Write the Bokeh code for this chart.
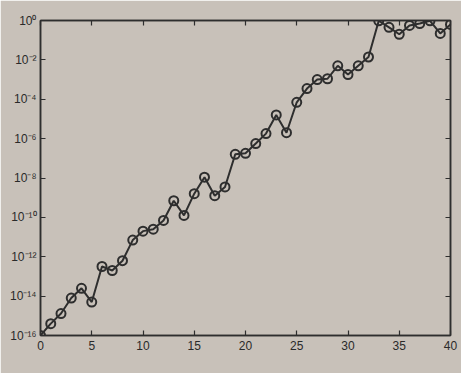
from bokeh.plotting import figure
from bokeh.models import Range1d, FixedTicker, LogAxis, LinearAxis
from bokeh.embed import file_html
from bokeh.resources import INLINE

x_vals = list(range(0, 41))
y_vals = [1e-16, 4e-16, 1.3e-15, 8e-15, 2.5e-14, 5e-15, 3.2e-13, 2e-13, 6.3e-13,
          7e-12, 2e-11, 2.5e-11, 7e-11, 7e-10, 1.26e-10, 1.6e-9, 1.1e-8, 1.26e-9,
          3.5e-9, 1.6e-7, 1.8e-7, 5.6e-7, 1.8e-6, 1.6e-5, 2e-6, 7e-5, 3.5e-4,
          1e-3, 1.1e-3, 5e-3, 1.8e-3, 5e-3, 1.4e-2, 0.97, 0.45, 0.2, 0.56, 0.7,
          0.97, 0.22, 0.63]

x_ticks = [0, 5, 10, 15, 20, 25, 30, 35, 40]
y_ticks = [1e-16, 1e-14, 1e-12, 1e-10, 1e-8, 1e-6, 1e-4, 1e-2, 1e0]
y_tick_labels = ["10⁻¹⁶", "10⁻¹⁴", "10⁻¹²", "10⁻¹⁰", "10⁻⁸", "10⁻⁶", "10⁻⁴", "10⁻²", "10⁰"]

bg = "#c8c1b9"
ink = "#2e2e2e"

p = figure(width=461, height=373, y_axis_type="log",
           x_range=Range1d(0, 40), y_range=Range1d(1e-16, 1e0),
           output_backend="svg", toolbar_location=None,
           min_border_left=40, min_border_right=11, min_border_top=20, min_border_bottom=38)
p.background_fill_color = bg
p.border_fill_color = bg
p.outline_line_color = ink
p.outline_line_width = 1.5
p.grid.visible = False

p.line(x_vals, y_vals, line_color=ink, line_width=2)
p.scatter(x_vals, y_vals, size=9, marker="circle", fill_color=None,
          line_color=ink, line_width=2)

def style(ax, labels=True):
    ax.axis_line_color = ink
    ax.axis_line_width = 1.5
    ax.major_tick_in = 5
    ax.major_tick_out = 0
    ax.minor_tick_line_color = None
    ax.major_tick_line_color = ink
    ax.major_tick_line_width = 1.2
    ax.major_label_text_font = "Liberation Sans"
    ax.major_label_text_font_size = "12px"
    ax.major_label_text_color = "#2a2a2a"
    ax.major_label_standoff = 4
    if not labels:
        ax.major_label_text_color = None

xa = p.xaxis[0]
xa.ticker = FixedTicker(ticks=x_ticks)
style(xa)
xa.major_label_standoff = 5
ya = p.yaxis[0]
ya.ticker = FixedTicker(ticks=y_ticks)
ya.major_label_overrides = {t: l for t, l in zip(y_ticks, y_tick_labels)}
style(ya)

top = LinearAxis(ticker=FixedTicker(ticks=x_ticks))
style(top, labels=False)
p.add_layout(top, "above")
right = LogAxis(ticker=FixedTicker(ticks=y_ticks))
style(right, labels=False)
p.add_layout(right, "right")

open("out.html", "w").write(file_html(p, INLINE))
